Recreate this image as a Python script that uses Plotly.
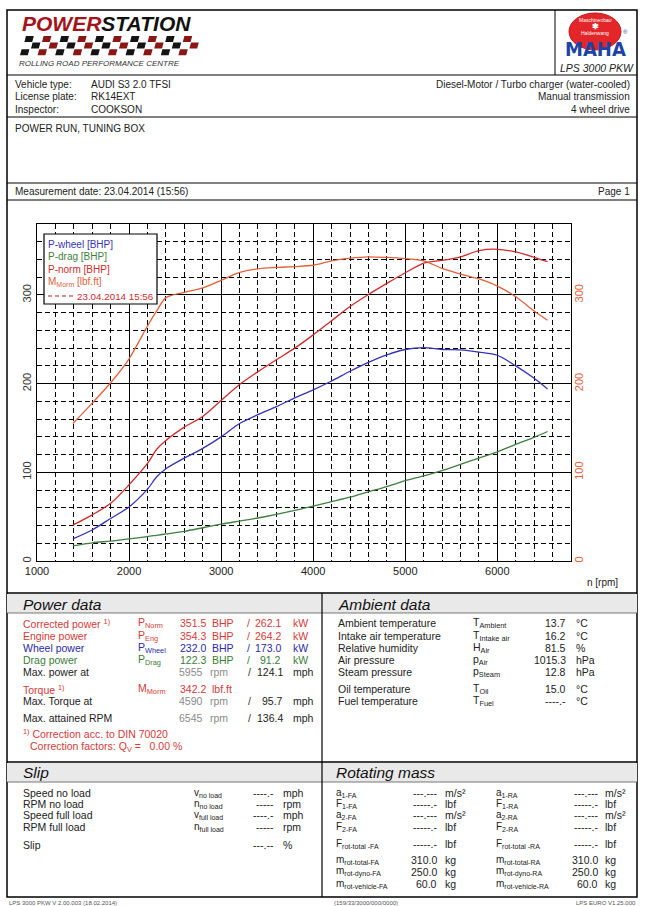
import plotly.graph_objects as go

W, H = 645, 906
FONT = "Liberation Sans, Arial, sans-serif"

# ---------------- chart data ----------------
rpm = [1390, 1600, 1800, 2000, 2200, 2300, 2400, 2600, 2800, 3000, 3200, 3400, 3600, 3800,
       4000, 4200, 4400, 4600, 4800, 5000, 5200, 5400, 5600, 5800, 6000, 6200, 6400, 6545]
p_wheel = [25, 35, 48, 61, 81, 95, 104, 116, 127, 140, 155, 165, 174, 184,
           193, 203, 214, 224, 232.5, 238.5, 240.5, 238.5, 238, 235.5, 232, 220, 206, 194]
p_drag = [17, 20.5, 22.5, 25, 27.5, 29, 30.5, 33.5, 37.5, 41.5, 45, 48.5, 52.5, 57,
          62, 67, 72, 78, 84, 90.5, 96, 102, 109, 116, 123, 131.5, 139.5, 146]
p_norm = [40.5, 52, 65, 86, 110, 126, 136, 151, 163, 181, 199, 213.5, 227, 240,
          255, 271, 287, 300.5, 313, 325, 336, 339, 343, 350, 351.5, 348.5, 342.5, 337.5]
m_norm = [155, 178, 201, 228, 265, 282, 297, 303, 308, 316.5, 325.5, 329.5, 331, 332,
          333.5, 338.5, 341.5, 343, 342.3, 341, 338.5, 330, 323.5, 318, 310, 298, 282, 271.5]

x_ticks = [1000, 2000, 3000, 4000, 5000, 6000]
y_ticks = [0, 100, 200, 300]

legend_names = ["P-wheel [BHP]", "P-drag [BHP]", "P-norm [BHP]", "M<sub>Morm</sub> [lbf.ft]"]
run_label = "23.04.2014 15:56"

# ---------------- table data ----------------
pw_labels = ["Corrected power <sup>1)</sup>", "Engine power", "Wheel power", "Drag power"]
pw_symbols = ["P<sub>Norm</sub>", "P<sub>Eng</sub>", "P<sub>Wheel</sub>", "P<sub>Drag</sub>"]
pw_bhp = ["351.5", "354.3", "232.0", "122.3"]
pw_kw = ["262.1", "264.2", "173.0", "91.2"]

at_labels = ["Max. power at", "Max. Torque at", "Max. attained RPM"]
at_rpm = ["5955", "4590", "6545"]
at_mph = ["124.1", "95.7", "136.4"]
torque_value = "342.2"

amb_labels = ["Ambient temperature", "Intake air temperature", "Relative humidity", "Air pressure",
              "Steam pressure", "Oil temperature", "Fuel temperature"]
amb_symbols = ["T<sub>Ambient</sub>", "T<sub>Intake air</sub>", "H<sub>Air</sub>", "p<sub>Air</sub>",
               "p<sub>Steam</sub>", "T<sub>Oil</sub>", "T<sub>Fuel</sub>"]
amb_values = ["13.7", "16.2", "81.5", "1015.3", "12.8", "15.0", "----.-"]
amb_units = ["°C", "°C", "%", "hPa", "hPa", "°C", "°C"]

slip_labels = ["Speed no load", "RPM no load", "Speed full load", "RPM full load", "Slip"]
slip_symbols = ["v<sub>no load</sub>", "n<sub>no load</sub>", "v<sub>full load</sub>", "n<sub>full load</sub>", ""]
slip_values = ["----.-", "-----", "----.-", "-----", "---.--"]
slip_units = ["mph", "rpm", "mph", "rpm", "%"]

rm_sym_fa = ["a<sub>1-FA</sub>", "F<sub>1-FA</sub>", "a<sub>2-FA</sub>", "F<sub>2-FA</sub>",
             "F<sub>rot-total -FA</sub>", "m<sub>rot-total-FA</sub>", "m<sub>rot-dyno-FA</sub>", "m<sub>rot-vehicle-FA</sub>"]
rm_sym_ra = ["a<sub>1-RA</sub>", "F<sub>1-RA</sub>", "a<sub>2-RA</sub>", "F<sub>2-RA</sub>",
             "F<sub>rot-total -RA</sub>", "m<sub>rot-total-RA</sub>", "m<sub>rot-dyno-RA</sub>", "m<sub>rot-vehicle-RA</sub>"]
rm_values = ["---.---", "-----.-", "---.---", "-----.-", "-----.-", "310.0", "250.0", "60.0"]
rm_units = ["m/s²", "lbf", "m/s²", "lbf", "lbf", "kg", "kg", "kg"]

# ---------------- helpers ----------------
def X(px):
    return px / W

def Y(py):
    return 1 - py / H

annotations = []
shapes = []
TS = 10.5  # table font size

def text(x, y, s, size=TS, color="#222", anchor="left", family=FONT):
    annotations.append(dict(x=X(x), y=Y(y), xref="paper", yref="paper", text=s, showarrow=False,
                            xanchor=anchor, yanchor="middle", borderpad=0,
                            font=dict(size=size, color=color, family=family)))

def hline(x0, x1, y, w=1, color="black", dash="solid"):
    shapes.append(dict(type="line", xref="paper", yref="paper", x0=X(x0), x1=X(x1), y0=Y(y), y1=Y(y),
                       line=dict(color=color, width=w, dash=dash), layer="above"))

def vline(x, y0, y1, w=1, color="black"):
    shapes.append(dict(type="line", xref="paper", yref="paper", x0=X(x), x1=X(x), y0=Y(y0), y1=Y(y1),
                       line=dict(color=color, width=w), layer="above"))

def rect(x0, y0, x1, y1, fill=None, line_color="black", w=1):
    shapes.append(dict(type="rect", xref="paper", yref="paper", x0=X(x0), x1=X(x1), y0=Y(y0), y1=Y(y1),
                       fillcolor=fill if fill else "rgba(0,0,0,0)",
                       line=dict(color=line_color, width=w), layer="above"))

# ---------------- figure traces ----------------
fig = go.Figure()
c_wheel, c_drag, c_norm, c_torque = "#3434b8", "#3f7f3f", "#cf2b2b", "#e2603a"
for vals, col, axis in [(p_drag, c_drag, "y"), (p_wheel, c_wheel, "y"), (p_norm, c_norm, "y"),
                        (m_norm, c_torque, "y2")]:
    fig.add_trace(go.Scatter(x=rpm, y=vals, mode="lines", yaxis=axis, showlegend=False,
                             line=dict(color=col, width=1.3, shape="spline", smoothing=0.8)))

# ---------------- page frame ----------------
rect(7, 10, 637, 897, w=1.5)
vline(555, 10, 75)
hline(7, 637, 75)
hline(7, 637, 117)
hline(7, 637, 183)
hline(7, 637, 200)
hline(7, 637, 593, w=1.5)
rect(7, 594, 637, 613, fill="#e9e9e9", line_color="rgba(0,0,0,0)")
hline(7, 637, 613, w=0.8, color="#555")
hline(7, 637, 762, w=1.5)
rect(7, 763, 637, 782, fill="#e9e9e9", line_color="rgba(0,0,0,0)")
hline(7, 637, 782, w=0.8, color="#555")
vline(322, 593, 897, w=1.2)

# ---------------- header logos ----------------
text(21, 23, "<b><i><span style='color:#a3141c'>POWER</span>STATION</i></b>", size=21, color="#111")
# checkered strip
for r in range(3):
    for c in range(20):
        if (r + c) % 2 == 0:
            cx = 20 + c * 8.8 + (2 - r) * 2.2
            cy = 36 + r * 6.6
            col = "#141414" if c % 4 in (0, 1) else "#8a1616"
            path = "M {} {} L {} {} L {} {} L {} {} Z".format(
                X(cx + 1.6), Y(cy), X(cx + 9.4), Y(cy), X(cx + 7.8), Y(cy + 6.0), X(cx), Y(cy + 6.0))
            shapes.append(dict(type="path", xref="paper", yref="paper", path=path,
                               fillcolor=col, line=dict(width=0), layer="above"))
text(18, 63, "<i>ROLLING ROAD PERFORMANCE CENTRE</i>", size=8, color="#333")

# MAHA logo
shapes.append(dict(type="circle", xref="paper", yref="paper", x0=X(569), x1=X(621), y0=Y(50), y1=Y(13),
                   fillcolor="#e3262a", line=dict(color="#c01818", width=1), layer="above"))
text(595, 20, "Maschinenbau", size=5, color="white", anchor="center")
text(595, 33, "Haldenwang", size=5, color="white", anchor="center")
text(595, 26.5, "<b>✱</b>", size=8, color="white", anchor="center")
text(595, 49, "<b>MAHA</b>", size=20, color="#1c44a6", anchor="center",
     family="DejaVu Sans Condensed, DejaVu Sans, sans-serif")
text(625, 32, "®", size=6, color="#1c44a6", anchor="center")
text(597, 68, "<i>LPS 3000 PKW</i>", size=10.5, color="#222", anchor="center")

# ---------------- vehicle info ----------------
HS = 10
text(14, 84, "Vehicle type:", size=HS)
text(14, 97, "License plate:", size=HS)
text(14, 110, "Inspector:", size=HS)
text(90, 84, "AUDI S3 2.0 TFSI", size=HS)
text(90, 97, "RK14EXT", size=HS)
text(90, 110, "COOKSON", size=HS)
text(631, 84, "Diesel-Motor / Turbo charger (water-cooled)", anchor="right", size=HS)
text(631, 97, "Manual transmission", anchor="right", size=HS)
text(631, 110, "4 wheel drive", anchor="right", size=HS)
text(14, 128, "POWER RUN, TUNING BOX", size=HS)
text(14, 192, "Measurement date: 23.04.2014 (15:56)", size=HS)
text(631, 192, "Page 1", anchor="right", size=HS)

# ---------------- chart legend box ----------------
rect(44, 234, 157, 304, fill="white", w=1.2)
leg_cols = [c_wheel, c_drag, c_norm, c_torque]
leg_y = [244, 256.5, 269, 281.5]
for name, col, yy in zip(legend_names, leg_cols, leg_y):
    text(47, yy, name, size=10, color=col)
hline(48, 73, 296, w=1.2, color="#b52020", dash="4px,3px")
text(76, 296, run_label, size=9.8, color="#cf2b2b")
text(586, 582, "n [rpm]", size=10, color="#222")

# ---------------- power data ----------------
red, blue, green, grey = "#d43a3a", "#2a2aaa", "#3a7d3a", "#8a8a8a"
text(22, 604, "<i>Power data</i>", size=15.5, color="#111")
text(337, 604, "<i>Ambient data</i>", size=15.5, color="#111")
pw_cols = [red, red, blue, green]
pw_y = [623, 635.5, 647.5, 660]
for lab, sym, b, k, col, yy in zip(pw_labels, pw_symbols, pw_bhp, pw_kw, pw_cols, pw_y):
    text(22, yy, lab, color=col)
    text(137, yy, sym, color=col)
    text(207, yy, b, color=col, anchor="right")
    text(211, yy, "BHP", color=col)
    text(246, yy, "/", color=col)
    text(282, yy, k, color=col, anchor="right")
    text(292, yy, "kW", color=col)

text(22, 689, "Torque <sup>1)</sup>", color=red)
text(137, 689, "M<sub>Morm</sub>", color=red)
text(207, 689, torque_value, color=red, anchor="right")
text(211, 689, "lbf.ft", color=red)

at_y = [672, 701, 717.5]
for lab, r_, m_, yy in zip(at_labels, at_rpm, at_mph, at_y):
    text(22, yy, lab)
    text(204, yy, r_, color=grey, anchor="right")
    text(209, yy, "rpm", color=grey)
    text(247, yy, "/", color="#333")
    text(284, yy, m_, anchor="right")
    text(292, yy, "mph")

text(22, 733, "<sup>1)</sup> Correction acc. to DIN 70020", color=red)
text(29, 746.5, "Correction factors: Q<sub>V</sub> =   0.00 %", color=red)

# ---------------- ambient data ----------------
amb_y = [623, 635.5, 647.5, 660, 672, 689, 701]
for lab, sym, v, u, yy in zip(amb_labels, amb_symbols, amb_values, amb_units, amb_y):
    text(337, yy, lab)
    text(472, yy, sym)
    text(567, yy, v, anchor="right")
    text(575, yy, u)

# ---------------- slip ----------------
text(22, 772, "<i>Slip</i>", size=15.5, color="#111")
slip_y = [792.5, 803.5, 815, 827, 845]
for lab, sym, v, u, yy in zip(slip_labels, slip_symbols, slip_values, slip_units, slip_y):
    text(22, yy, lab)
    if sym:
        text(193, yy, sym, size=10)
    text(275, yy, v, anchor="right")
    text(282, yy, u)

# ---------------- rotating mass ----------------
text(335, 772, "<i>Rotating mass</i>", size=15.5, color="#111")
rm_y = [792.5, 803.5, 815, 827, 844, 860, 871.5, 884]
for sf, sr, v, u, yy in zip(rm_sym_fa, rm_sym_ra, rm_values, rm_units, rm_y):
    text(335, yy, sf, size=10)
    text(438, yy, v, anchor="right")
    text(444, yy, u)
    text(495, yy, sr, size=10)
    text(599, yy, v, anchor="right")
    text(604, yy, u)

# ---------------- footer ----------------
text(8, 903, "LPS 3000 PKW V 2.00.003 (18.02.2014)", size=6, color="#555")
text(333, 903, "(159/33/3000/000/0000)", size=6, color="#555")
text(637, 903, "LPS EURO V1.25.000", size=6, color="#555", anchor="right")

# ---------------- axes ----------------
grid_minor = dict(showgrid=True, gridcolor="black", gridwidth=1.4, griddash="5px,3px")
fig.update_layout(
    template="none",
    width=W, height=H, margin=dict(l=0, r=0, t=0, b=0, pad=0, autoexpand=False),
    paper_bgcolor="white", plot_bgcolor="white", showlegend=False,
    font=dict(family=FONT, size=11, color="#222"),
    xaxis=dict(domain=[X(37), X(571)], range=[1000, 6800], tickmode="array", tickvals=x_ticks,
               showgrid=True, gridcolor="black", gridwidth=1.2, zeroline=False, automargin=False,
               showline=True, linecolor="black", linewidth=1.3, mirror=True, ticks="",
               tickfont=dict(size=11, color="#222"),
               minor=dict(dtick=200, tick0=1000, **grid_minor)),
    yaxis=dict(domain=[Y(561), Y(224)], range=[0, 380], tickmode="array", tickvals=y_ticks,
               showgrid=True, gridcolor="black", gridwidth=1.2, zeroline=False, automargin=False,
               showline=True, linecolor="black", linewidth=1.3, mirror=True, ticks="",
               tickangle=-90, tickfont=dict(size=11, color="#333"),
               minor=dict(dtick=20, tick0=0, **grid_minor)),
    yaxis2=dict(overlaying="y", side="right", range=[0, 380], tickmode="array", tickvals=y_ticks,
                showgrid=False, zeroline=False, ticks="", tickangle=-90, automargin=False,
                tickfont=dict(size=11, color="#e8603c")),
    annotations=annotations, shapes=shapes,
)

fig.write_html("out.html", config={"displayModeBar": False},
               post_script="document.body.style.margin='0';document.body.style.overflow='hidden';")
